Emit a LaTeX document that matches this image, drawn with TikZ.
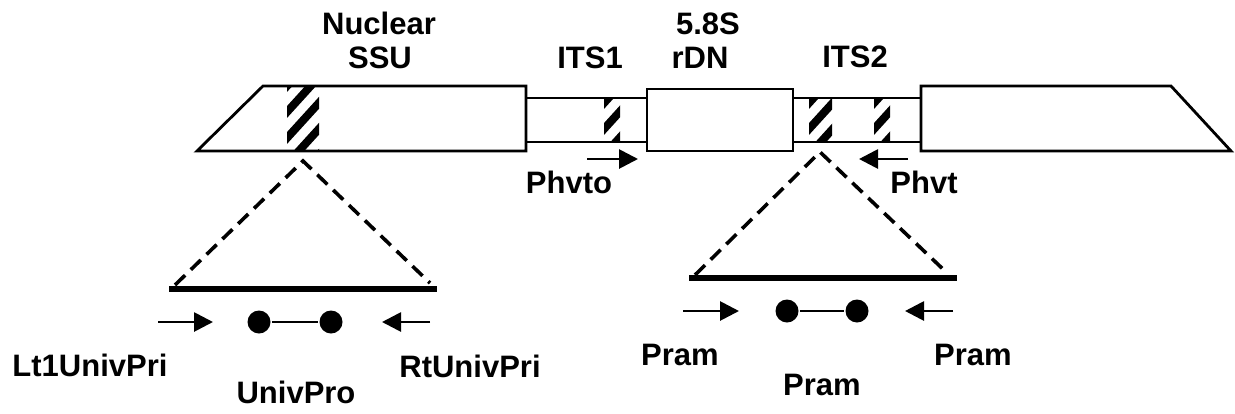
\documentclass[tikz,border=0pt]{standalone}
\usepackage{fontspec}
\setmainfont{Liberation Sans}
\usetikzlibrary{arrows.meta}

\begin{document}
\begin{tikzpicture}[x=0.5pt, y=-0.5pt, line width=1.4pt,
  >={Triangle[length=9.5pt, width=9.5pt]},
  lbl/.style={font=\fontsize{15.5}{18}\selectfont\bfseries, inner sep=0pt, anchor=base},
  stripe/.style={line width=4pt},
  zoomline/.style={line width=1.8pt, dash pattern=on 7pt off 4pt},
  fragment/.style={line width=2.6pt},
  dot/.style={circle, fill=black, minimum size=11.5pt, inner sep=0pt}]
\useasboundingbox (0,0) rectangle (1235,413);
% ---- hatched primer sites
\foreach \xa/\xb/\ya/\yb in {287/319/86/151, 604/620/98/142, 809/832/98/142, 874/890/98/142} {
  \begin{scope}
    \clip (\xa,\ya) rectangle (\xb,\yb);
    \foreach \k in {-2,...,5}
      \draw[stripe] (\xa-10,\yb+24-\k*26) -- ++(50,-55);
  \end{scope}
}
% ---- rDNA repeat
\draw (197,151) -- (263,86) -- (526,86) -- (526,151) -- cycle;
\draw (526,98) -- (647,98) (526,142) -- (647,142);
\draw (647,89) rectangle (793,151);
\draw (793,98) -- (921,98) (793,142) -- (921,142);
\draw (921,86) -- (1171,86) -- (1231,151) -- (921,151) -- cycle;
% ---- region labels
\node[lbl] (nuc)  at (379,34) {Nuclear};
\node[lbl] (ssu)  at (380,68) {SSU};
\node[lbl] (its1) at (590,68) {ITS1};
\node[lbl] (s58)  at (708,34) {5.8S};
\node[lbl] (rdn)  at (700,68) {rDN};
\node[lbl] (its2) at (855,67) {ITS2};
% ---- ITS primers
\coordinate (phvtoA) at (587,159);
\coordinate (phvtoB) at (638,159);
\coordinate (phvtA)  at (908,159);
\coordinate (phvtB)  at (859,159);
\draw[->] (phvtoA) -- (phvtoB);
\draw[->] (phvtA) -- (phvtB);
\node[lbl] (phvto) at (569,193) {Phvto};
\node[lbl] (phvt)  at (924,193) {Phvt};
% ---- SSU close-up
\coordinate (ssuTop) at (303,161);
\coordinate (ssuL) at (175,285);
\coordinate (ssuR) at (430,283);
\draw[zoomline] (ssuL) -- (ssuTop) -- (ssuR);
\coordinate (ssuFragL) at (169,289);
\coordinate (ssuFragR) at (437,289);
\draw[fragment] (ssuFragL) -- (ssuFragR);
\coordinate (ltA) at (158,322);
\coordinate (ltB) at (213,322);
\coordinate (rtA) at (430,322);
\coordinate (rtB) at (382,322);
\draw[->] (ltA) -- (ltB);
\draw[->] (rtA) -- (rtB);
\node[dot] (upL) at (259,322) {};
\node[dot] (upR) at (331,322) {};
\draw (upL) -- (upR);
\node[lbl] (ltpri)  at (90,376)  {Lt1UnivPri};
\node[lbl] (univp)  at (296,403) {UnivPro};
\node[lbl] (rtpri)  at (470,377) {RtUnivPri};
% ---- ITS2 close-up
\coordinate (itsTop) at (820,152);
\coordinate (itsL) at (695,275);
\coordinate (itsR) at (946,272);
\draw[zoomline] (itsL) -- (itsTop) -- (itsR);
\coordinate (itsFragL) at (689,278);
\coordinate (itsFragR) at (957,278);
\draw[fragment] (itsFragL) -- (itsFragR);
\coordinate (pfA) at (683,311);
\coordinate (pfB) at (739,311);
\coordinate (prA) at (953,311);
\coordinate (prB) at (905,311);
\draw[->] (pfA) -- (pfB);
\draw[->] (prA) -- (prB);
\node[dot] (ppL) at (787,311) {};
\node[dot] (ppR) at (857,311) {};
\draw (ppL) -- (ppR);
\node[lbl] (pramL) at (680,365) {Pram};
\node[lbl] (pramC) at (822,395) {Pram};
\node[lbl] (pramR) at (973,365) {Pram};
\end{tikzpicture}
\end{document}
